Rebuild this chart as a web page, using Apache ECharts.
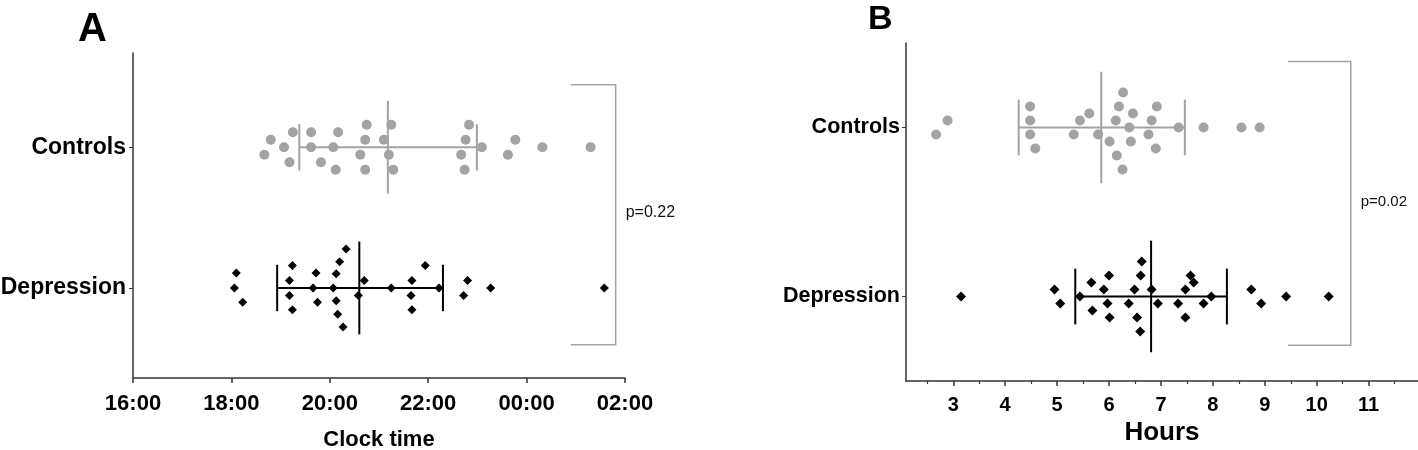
<!DOCTYPE html>
<html>
<head>
<meta charset="utf-8">
<script src="https://cdn.jsdelivr.net/npm/echarts@6/dist/echarts.min.js"></script>
<style>html,body{margin:0;padding:0;background:#fff}#c{width:1418px;height:450px}</style>
</head>
<body>
<div id="c"></div>
<script>
// ---- data ----
const categories = ['Depression', 'Controls'];          // y rows 1 and 2
const clockTicks = [16, 18, 20, 22, 24, 26];             // hours (>24 = after midnight)
const hoursTicks = [3, 4, 5, 6, 7, 8, 9, 10, 11];

// [clock hour, swarm lane]
const ctrlClock = [[18.67,-1],[18.80,1],[19.07,0],[19.18,-2],[19.25,2],[19.62,2],[19.62,0],[19.82,-2],[20.07,0],[20.12,-3],[20.17,2],[20.62,-1],[20.72,1],[20.72,-3],[20.75,3],[21.10,1],[21.20,-1],[21.25,3],[21.29,-3],[22.67,-1],[22.74,-3],[22.76,1],[22.83,3],[23.09,0],[23.62,-1],[23.77,1],[24.32,0],[25.30,0]];
const depClock = [[18.10,2],[18.06,0],[18.23,-1.9],[19.24,3],[19.18,1],[19.18,-1],[19.24,-2.9],[19.72,2],[19.66,0],[19.75,-1.9],[20.33,5.2],[20.20,3.5],[20.13,1.9],[20.07,0],[20.13,-1.7],[20.16,-3.5],[20.27,-5.2],[20.70,1],[20.58,-1],[21.25,0],[21.67,1],[21.65,-1],[21.67,-2.9],[21.94,3],[22.22,0],[22.80,1],[22.72,-1],[23.27,0],[25.58,0]];
// [hours, swarm lane]
const ctrlHours = [[2.67,-1],[2.89,1],[4.48,3],[4.48,1],[4.48,-1],[4.58,-3],[5.32,-1],[5.44,1],[5.62,2],[5.79,-1],[6.01,-2],[6.15,-4],[6.26,-6],[6.13,1],[6.19,3],[6.27,5],[6.39,0],[6.42,-2],[6.46,2],[6.76,-1],[6.82,1],[6.90,-3],[6.92,3],[7.34,0],[7.82,0],[8.55,0],[8.90,0]];
const depHours = [[3.15,0],[4.95,1],[5.06,-1],[5.44,0],[5.66,2],[5.68,-2],[5.90,1],[5.97,-1],[6.00,3],[6.01,-3],[6.38,-1],[6.49,1],[6.54,-3],[6.60,-5],[6.61,3],[6.63,5],[6.82,1],[6.94,-1],[7.33,-1],[7.47,1],[7.47,-3],[7.57,3],[7.63,2],[7.82,-1],[7.97,0],[8.74,1],[8.93,-1],[9.41,0],[10.23,0]];

// mean and SD limits: [Depression, Controls]
const clockMean = [20.60, 21.18];
const clockLow  = [18.93, 19.38];
const clockHigh = [22.30, 22.99];
const hoursMean = [6.81, 5.85];
const hoursLow  = [5.35, 4.26];
const hoursHigh = [8.27, 7.46];
const pValues = ['p=0.22', 'p=0.02'];

// ---- drawing ----
const FONT = '"Liberation Sans", Arial, Helvetica, sans-serif';
const GRAY = '#a3a3a3';
const AXIS = '#333333';
const stepA = 7.5 / 140.7;   // lane spacing in row units (panel A)
const stepB = 7.0 / 169.0;   // lane spacing in row units (panel B)

function swarm(arr, row, step) { return arr.map(d => [d[0], row + d[1] * step]); }
function fmtClock(v) { const h = ((v % 24) + 24) % 24; return (h < 10 ? '0' : '') + h + ':00'; }

function errData(mean, lo, hi) { return [[mean[0], lo[0], hi[0], 1], [mean[1], lo[1], hi[1], 2]]; }
function errRender(params, api) {
  const m = api.value(0), lo = api.value(1), hi = api.value(2), y = api.value(3);
  const col = y === 2 ? GRAY : '#000';
  const st = { stroke: col, lineWidth: 2 };
  const L = (a, b) => { const p = api.coord(a), q = api.coord(b); return { type: 'line', shape: { x1: p[0], y1: p[1], x2: q[0], y2: q[1] }, style: st }; };
  return { type: 'group', children: [
    L([lo, y], [hi, y]),
    L([m, y - 0.33], [m, y + 0.33]),
    L([lo, y - 0.165], [lo, y + 0.165]),
    L([hi, y - 0.165], [hi, y + 0.165])
  ]};
}
function bracketRender(fontSize, label) {
  return function (params, api) {
    const x0 = api.value(0), x1 = api.value(1), yt = api.value(2), yb = api.value(3);
    const a = api.coord([x0, yt]), b = api.coord([x1, yt]), c = api.coord([x1, yb]), d = api.coord([x0, yb]);
    return { type: 'group', children: [
      { type: 'polyline', shape: { points: [a, b, c, d] }, style: { stroke: GRAY, lineWidth: 1.5, fill: null } },
      { type: 'text', style: { text: label,
          x: b[0] + 10, y: (b[1] + c[1]) / 2 - 2, fill: '#111', font: fontSize + 'px ' + FONT, verticalAlign: 'middle', textAlign: 'left' } }
    ]};
  };
}

const chart = echarts.init(document.getElementById('c'), null, { renderer: 'canvas' });
const catLabel = v => categories[Math.round(v) - 1] || '';

chart.setOption({
  animation: false,
  backgroundColor: '#fff',
  graphic: [
    { type: 'text', left: 78, top: 10, style: { text: 'A', font: 'bold 40px ' + FONT, fill: '#000' } },
    { type: 'text', left: 868, top: 3, style: { text: 'B', font: 'bold 34px ' + FONT, fill: '#000' } }
  ],
  grid: [
    { left: 133, top: 53, width: 492, height: 325, containLabel: false, outerBoundsMode: 'none' },
    { left: 906, top: 43, width: 512, height: 338, containLabel: false, outerBoundsMode: 'none' }
  ],
  xAxis: [
    { type: 'value', gridIndex: 0, min: 16, max: 26, interval: 2,
      name: 'Clock time', nameLocation: 'middle', nameGap: 51,
      nameTextStyle: { fontFamily: FONT, fontWeight: 'bold', fontSize: 22, color: '#000' },
      axisLine: { show: true, lineStyle: { color: AXIS, width: 1.5 } },
      axisTick: { show: true, length: 5, lineStyle: { color: AXIS, width: 1.5 } },
      axisLabel: { margin: 15, fontFamily: FONT, fontWeight: 'bold', fontSize: 22, color: '#000', formatter: fmtClock, customValues: clockTicks },
      splitLine: { show: false } },
    { type: 'value', gridIndex: 1, min: 2.09, max: 11.95,
      name: 'Hours', nameLocation: 'middle', nameGap: 37,
      nameTextStyle: { fontFamily: FONT, fontWeight: 'bold', fontSize: 26, color: '#000' },
      axisLine: { show: true, lineStyle: { color: AXIS, width: 1.5 } },
      axisTick: { show: true, length: 5, customValues: hoursTicks, lineStyle: { color: AXIS, width: 1.5 } },
      axisLabel: { margin: 14, fontFamily: FONT, fontWeight: 'bold', fontSize: 20, color: '#000', customValues: hoursTicks },
      splitLine: { show: false } },
    { type: 'value', gridIndex: 1, min: 2.09, max: 11.95, position: 'bottom',
      axisLine: { show: false },
      axisTick: { show: true, length: 3, customValues: hoursTicks.map(v => v - 0.5).concat([11.5]), lineStyle: { color: AXIS, width: 1.2 } },
      axisLabel: { show: false }, splitLine: { show: false } }
  ],
  yAxis: [
    { type: 'value', gridIndex: 0, min: 0.36, max: 2.67,
      axisLine: { show: true, lineStyle: { color: AXIS, width: 1.5 } },
      axisTick: { show: true, length: 4, customValues: [1, 2], lineStyle: { color: AXIS } },
      axisLabel: { margin: 7, fontFamily: FONT, fontWeight: 'bold', fontSize: 23, color: '#000', customValues: [1, 2], formatter: catLabel },
      splitLine: { show: false } },
    { type: 'value', gridIndex: 1, min: 0.5, max: 2.5,
      axisLine: { show: true, lineStyle: { color: AXIS, width: 1.5 } },
      axisTick: { show: true, length: 4, customValues: [1, 2], lineStyle: { color: AXIS } },
      axisLabel: { margin: 6, fontFamily: FONT, fontWeight: 'bold', fontSize: 21.5, color: '#000', customValues: [1, 2], formatter: catLabel },
      splitLine: { show: false } }
  ],
  series: [
    { type: 'scatter', xAxisIndex: 0, yAxisIndex: 0, symbol: 'circle', symbolSize: 10, itemStyle: { color: GRAY, opacity: 1 }, data: swarm(ctrlClock, 2, stepA) },
    { type: 'scatter', xAxisIndex: 0, yAxisIndex: 0, symbol: 'diamond', symbolSize: 9, itemStyle: { color: '#000', opacity: 1 }, data: swarm(depClock, 1, stepA) },
    { type: 'scatter', xAxisIndex: 1, yAxisIndex: 1, symbol: 'circle', symbolSize: 10, itemStyle: { color: GRAY, opacity: 1 }, data: swarm(ctrlHours, 2, stepB) },
    { type: 'scatter', xAxisIndex: 1, yAxisIndex: 1, symbol: 'diamond', symbolSize: 10, itemStyle: { color: '#000', opacity: 1 }, data: swarm(depHours, 1, stepB) },
    { type: 'custom', xAxisIndex: 0, yAxisIndex: 0, renderItem: errRender, data: errData(clockMean, clockLow, clockHigh), encode: { x: [0, 1, 2], y: 3 }, z: 5 },
    { type: 'custom', xAxisIndex: 1, yAxisIndex: 1, renderItem: errRender, data: errData(hoursMean, hoursLow, hoursHigh), encode: { x: [0, 1, 2], y: 3 }, z: 5 },
    { type: 'custom', xAxisIndex: 0, yAxisIndex: 0, renderItem: bracketRender(16, pValues[0]), data: [[24.90, 25.81, 2.444, 0.597]], encode: { x: [0, 1], y: [2, 3] }, clip: false },
    { type: 'custom', xAxisIndex: 1, yAxisIndex: 1, renderItem: bracketRender(15, pValues[1]), data: [[9.45, 10.655, 2.39, 0.711]], encode: { x: [0, 1], y: [2, 3] }, clip: false }
  ]
});
</script>
</body>
</html>
